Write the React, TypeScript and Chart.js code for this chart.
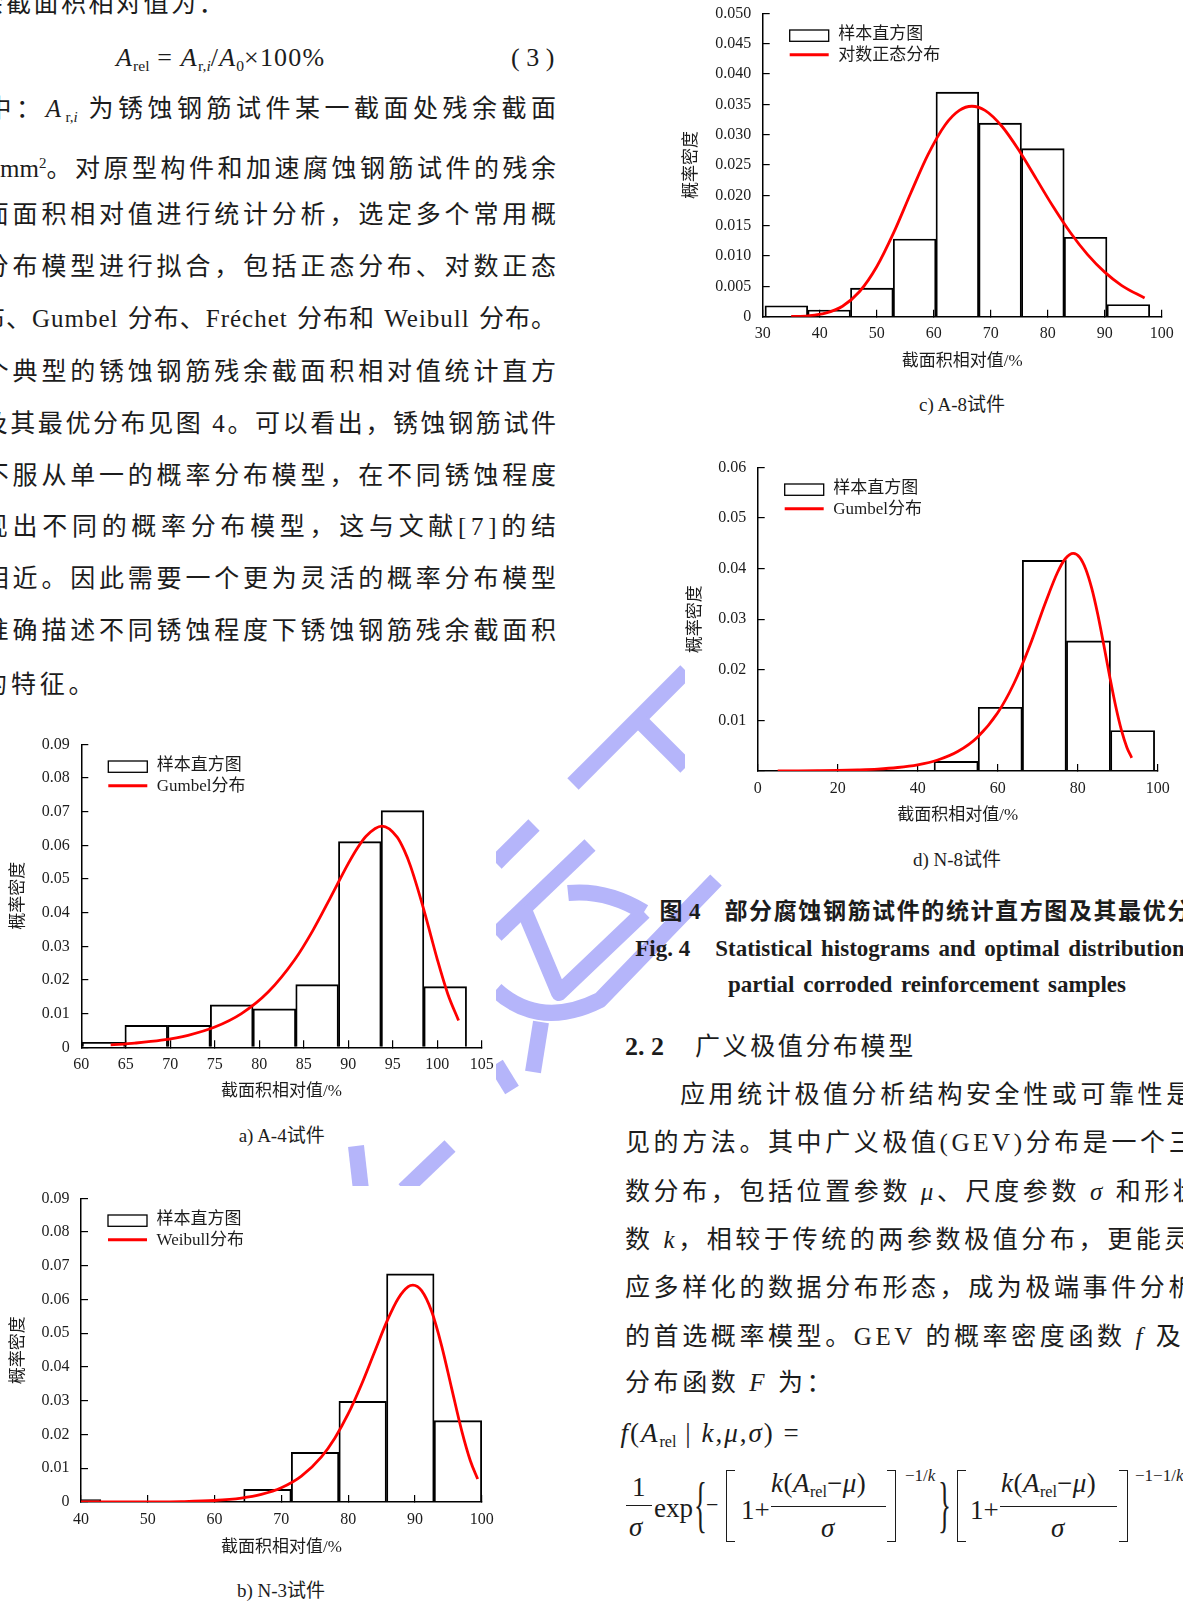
import React, { useEffect, useRef } from "react";
import { Chart, registerables } from "chart.js";

Chart.register(...registerables);

const RED = "#ff0000";
const INK = "#1c1c1c";
const FONT = '"Liberation Serif", "Times New Roman", "Noto Sans CJK SC", serif';

// ---------------- c) A-8 (lognormal) ----------------
const binCentersC = [34.15, 41.65, 49.15, 56.65, 64.15, 71.65, 79.15, 86.65, 94.15];
const binHeightsC = [0.0018, 0.0011, 0.0047, 0.0128, 0.037, 0.0319, 0.0277, 0.0131, 0.002];
const curveXC = [35, 38, 41, 44, 47, 50, 53, 56, 59, 62, 64.5, 66.7, 69, 72, 75, 78, 81, 84, 87, 90, 93, 97];
const curveYC = [0.00003, 0.00015, 0.00058, 0.00173, 0.00415, 0.00823, 0.01389, 0.02043, 0.02671, 0.0316, 0.034, 0.03468, 0.034, 0.03134, 0.02734, 0.02271, 0.01807, 0.01383, 0.01023, 0.00734, 0.00513, 0.00307];
const xTicksC = [30, 40, 50, 60, 70, 80, 90, 100];
const xLabelsC = ["30", "40", "50", "60", "70", "80", "90", "100"];
const yTicksC = [0, 0.005, 0.01, 0.015, 0.02, 0.025, 0.03, 0.035, 0.04, 0.045, 0.05];
const yLabelsC = ["0", "0.005", "0.010", "0.015", "0.020", "0.025", "0.030", "0.035", "0.040", "0.045", "0.050"];

// ---------------- d) N-8 (Gumbel) ----------------
const binCentersD = [49.6, 60.63, 71.66, 82.69, 93.72];
const binHeightsD = [0.0019, 0.0126, 0.0416, 0.0257, 0.008];
const curveXD = [5, 10, 15, 20, 25, 30, 35, 40, 45, 50, 55, 60, 64, 68, 72, 75, 76.9, 78.9, 80.5, 82, 83.5, 85, 86.5, 88, 89.5, 91, 92.3, 93.5];
const curveYD = [0.00002, 0.00004, 0.00007, 0.00012, 0.00022, 0.00038, 0.00069, 0.00123, 0.00218, 0.00385, 0.00673, 0.0115, 0.01719, 0.02471, 0.0334, 0.03931, 0.04193, 0.043, 0.04221, 0.03992, 0.03612, 0.03101, 0.02498, 0.01869, 0.01279, 0.00786, 0.00466, 0.00261];
const xTicksD = [0, 20, 40, 60, 80, 100];
const xLabelsD = ["0", "20", "40", "60", "80", "100"];
const yTicksD = [0, 0.01, 0.02, 0.03, 0.04, 0.05, 0.06];
const yLabelsD = ["", "0.01", "0.02", "0.03", "0.04", "0.05", "0.06"];

// ---------------- a) A-4 (Gumbel) ----------------
const binCentersA = [62.5, 67.3, 72.1, 76.9, 81.7, 86.5, 91.3, 96.1, 100.9];
const binHeightsA = [0.0015, 0.0065, 0.0065, 0.0126, 0.0114, 0.0186, 0.0611, 0.0703, 0.018];
const curveXA = [63.3, 66, 69, 72, 75, 78, 81, 84, 86, 88, 90, 91, 92, 93.8, 95.5, 96.3, 97, 98.5, 99.3, 100, 101.2, 102.4];
const curveYA = [0.0007, 0.00124, 0.00211, 0.00357, 0.00601, 0.01001, 0.0164, 0.02607, 0.03459, 0.04445, 0.05455, 0.05905, 0.06271, 0.0657, 0.06243, 0.05848, 0.05382, 0.04084, 0.03302, 0.02621, 0.01577, 0.00798];
const xTicksA = [60, 65, 70, 75, 80, 85, 90, 95, 100, 105];
const xLabelsA = ["60", "65", "70", "75", "80", "85", "90", "95", "100", "105"];
const yTicksA = [0, 0.01, 0.02, 0.03, 0.04, 0.05, 0.06, 0.07, 0.08, 0.09];
const yLabelsA = ["0", "0.01", "0.02", "0.03", "0.04", "0.05", "0.06", "0.07", "0.08", "0.09"];

// ---------------- b) N-3 (Weibull) ----------------
const binCentersB = [39.41, 46.54, 53.67, 60.79, 67.92, 75.05, 82.18, 89.31, 96.44];
const binHeightsB = [0.0007, 0, 0, 0, 0.00375, 0.0147, 0.0298, 0.0676, 0.0241];
const curveXB = [40, 45, 50, 55, 60, 64, 67, 70, 73, 76, 78, 80, 82, 84, 86, 87.5, 89, 89.7, 91, 92.5, 94, 95.5, 97, 98.3, 99.4];
const curveYB = [0, 0.00001, 0.00003, 0.00012, 0.00044, 0.00114, 0.00223, 0.0042, 0.00764, 0.01337, 0.01892, 0.02608, 0.03484, 0.04469, 0.0544, 0.06034, 0.06382, 0.06425, 0.06262, 0.0565, 0.04629, 0.03368, 0.02117, 0.01223, 0.00679];
const xTicksB = [40, 50, 60, 70, 80, 90, 100];
const xLabelsB = ["40", "50", "60", "70", "80", "90", "100"];
const yTicksB = [0, 0.01, 0.02, 0.03, 0.04, 0.05, 0.06, 0.07, 0.08, 0.09];
const yLabelsB = ["0", "0.01", "0.02", "0.03", "0.04", "0.05", "0.06", "0.07", "0.08", "0.09"];

const HIST_LABEL = "样本直方图";
const X_TITLE = "截面积相对值/%";
const Y_TITLE = "概率密度";

type Spec = {
  left: number; top: number; w: number; h: number;
  area: { l: number; t: number; r: number; b: number };
  xMin: number; xMax: number; yMax: number;
  xTicks: number[]; xLabels: string[]; yTicks: number[]; yLabels: string[];
  binCenters: number[]; binHeights: number[];
  curveX: number[]; curveY: number[]; curveLabel: string;
  xTitlePad: number; yTitlePad: number;
};

const specC: Spec = {
  left: 660, top: 0, w: 523, h: 380, area: { l: 102.7, t: 13.3, r: 501.7, b: 316.7 },
  xMin: 30, xMax: 100, yMax: 0.05, xTicks: xTicksC, xLabels: xLabelsC, yTicks: yTicksC, yLabels: yLabelsC,
  binCenters: binCentersC, binHeights: binHeightsC, curveX: curveXC, curveY: curveYC, curveLabel: "对数正态分布",
  xTitlePad: 7.8, yTitlePad: 21.5,
};
const specD: Spec = {
  left: 685, top: 440, w: 498, h: 400, area: { l: 72.7, t: 27.3, r: 472.7, b: 331 },
  xMin: 0, xMax: 100, yMax: 0.06, xTicks: xTicksD, xLabels: xLabelsD, yTicks: yTicksD, yLabels: yLabelsD,
  binCenters: binCentersD, binHeights: binHeightsD, curveX: curveXD, curveY: curveYD, curveLabel: "Gumbel分布",
  xTitlePad: 13.8, yTitlePad: 0,
};
const specA: Spec = {
  left: 0, top: 720, w: 496, h: 400, area: { l: 81.3, t: 24.3, r: 481.7, b: 327.3 },
  xMin: 60, xMax: 105, yMax: 0.09, xTicks: xTicksA, xLabels: xLabelsA, yTicks: yTicksA, yLabels: yLabelsA,
  binCenters: binCentersA, binHeights: binHeightsA, curveX: curveXA, curveY: curveYA, curveLabel: "Gumbel分布",
  xTitlePad: 18.1, yTitlePad: 8.8,
};
const specB: Spec = {
  left: 0, top: 1186, w: 496, h: 384, area: { l: 81, t: 12.3, r: 481.7, b: 316 },
  xMin: 40, xMax: 100, yMax: 0.09, xTicks: xTicksB, xLabels: xLabelsB, yTicks: yTicksB, yLabels: yLabelsB,
  binCenters: binCentersB, binHeights: binHeightsB, curveX: curveXB, curveY: curveYB, curveLabel: "Weibull分布",
  xTitlePad: 12.1, yTitlePad: 8.1,
};

const legendPlugin = {
  id: "sampleLegend",
  afterDatasetsDraw(chart: any) {
    const { ctx, chartArea } = chart;
    const x = chartArea.left + 27;
    const y = chartArea.top + 16.7;
    const lineDs = chart.data.datasets[0];
    const barDs = chart.data.datasets[1];
    ctx.save();
    ctx.lineWidth = 1.3;
    ctx.strokeStyle = "#000";
    ctx.strokeRect(x, y, 39, 11.3);
    ctx.lineWidth = 3;
    ctx.strokeStyle = RED;
    ctx.beginPath();
    ctx.moveTo(x, y + 24.7);
    ctx.lineTo(x + 39, y + 24.7);
    ctx.stroke();
    ctx.fillStyle = INK;
    ctx.font = `17px ${FONT}`;
    ctx.textBaseline = "middle";
    ctx.textAlign = "left";
    ctx.fillText(barDs.label, x + 48.5, y + 4.5);
    ctx.fillText(lineDs.label, x + 48.5, y + 25.5);
    ctx.restore();
  },
};

function HistChart({ spec }: { spec: Spec }) {
  const ref = useRef<HTMLCanvasElement>(null);
  useEffect(() => {
    const s = spec;
    const tickFont = { family: FONT, size: 16 };
    const titleFont = { family: FONT, size: 17 };
    const chart = new Chart(ref.current as HTMLCanvasElement, {
      type: "bar",
      data: {
        datasets: [
          {
            type: "line",
            label: s.curveLabel,
            data: s.curveX.map((x, i) => ({ x, y: s.curveY[i] })),
            borderColor: RED,
            borderWidth: 2.8,
            pointRadius: 0,
            cubicInterpolationMode: "monotone",
            fill: false,
            order: 0,
          } as any,
          {
            type: "bar",
            label: HIST_LABEL,
            data: s.binCenters.map((x, i) => ({ x, y: s.binHeights[i] })),
            backgroundColor: "rgba(255,255,255,0)",
            borderColor: "#000",
            borderWidth: 1.2,
            barPercentage: 1,
            categoryPercentage: 1,
            grouped: false,
            order: 1,
            clip: { left: 0, top: 10, right: 10, bottom: 0 },
          } as any,
        ],
      },
      options: {
        responsive: false,
        animation: false,
        devicePixelRatio: 1,
        events: [],
        layout: { padding: { left: 0, top: s.area.t, right: s.w - s.area.r, bottom: 0 } },
        plugins: { legend: { display: false }, tooltip: { enabled: false }, title: { display: false } },
        scales: {
          x: {
            type: "linear",
            min: s.xMin,
            max: s.xMax,
            offset: false,
            afterBuildTicks: (sc: any) => { sc.ticks = s.xTicks.map((v) => ({ value: v })); },
            afterFit: (sc: any) => {
              sc.height = s.h - s.area.b;
              sc.paddingLeft = 0;
              sc.paddingRight = 0;
            },
            ticks: { autoSkip: false, maxRotation: 0, padding: 14.9, font: tickFont, color: INK, callback: (_v: any, i: number) => s.xLabels[i] },
            grid: { drawOnChartArea: false, drawTicks: true, tickLength: -7, color: "#000", lineWidth: 1.2, offset: false },
            border: { display: true, color: "#000", width: 1.5 },
            title: { display: true, text: X_TITLE, font: titleFont, color: INK, padding: { top: 0, bottom: s.xTitlePad } },
          },
          y: {
            type: "linear",
            min: 0,
            max: s.yMax,
            afterBuildTicks: (sc: any) => { sc.ticks = s.yTicks.map((v) => ({ value: v })); },
            afterFit: (sc: any) => {
              sc.width = s.area.l;
              sc.paddingTop = 0;
              sc.paddingBottom = 0;
            },
            ticks: { autoSkip: false, padding: 18.5, font: tickFont, color: INK, callback: (_v: any, i: number) => s.yLabels[i] },
            grid: { drawOnChartArea: false, drawTicks: true, tickLength: -7, color: "#000", lineWidth: 1.2 },
            border: { display: true, color: "#000", width: 1.5 },
            title: { display: true, text: Y_TITLE, font: titleFont, color: INK, padding: { top: s.yTitlePad, bottom: 0 } },
          },
        },
      } as any,
      plugins: [legendPlugin],
    });
    return () => chart.destroy();
  }, [spec]);
  return (
    <canvas
      ref={ref}
      width={spec.w}
      height={spec.h}
      style={{ position: "absolute", left: spec.left, top: spec.top, width: spec.w, height: spec.h, background: "#fff" }}
    />
  );
}

function Abs({ x, right, y, size = 25, ls = 0, bold = false, center = false, style, children }: any) {
  const st: React.CSSProperties = {
    position: "absolute",
    top: y - size * 0.6,
    lineHeight: `${size * 1.2}px`,
    fontSize: size,
    letterSpacing: ls,
    whiteSpace: "nowrap",
    fontWeight: bold ? 700 : 400,
    ...style,
  };
  if (right !== undefined) st.right = 1183 - right - ls;
  else if (center) { st.left = x; st.transform = "translateX(-50%)"; }
  else st.left = x;
  return <div style={st}>{children}</div>;
}

const subSt: React.CSSProperties = { fontSize: "0.6em", verticalAlign: "-0.3em", letterSpacing: 0 };
const supSt: React.CSSProperties = { fontSize: "0.6em", verticalAlign: "0.6em", letterSpacing: 0 };

function Bar({ left, top, width }: any) {
  return <div style={{ position: "absolute", left, top, width, height: 1.3, background: INK }} />;
}
function Bracket({ left, side }: any) {
  const b = `1.6px solid ${INK}`;
  return (
    <div style={{
      position: "absolute", left, top: 1470, width: 8, height: 70,
      borderTop: b, borderBottom: b,
      borderLeft: side === "l" ? b : "none", borderRight: side === "r" ? b : "none",
    }} />
  );
}

function Watermark() {
  const c = "#b5b5fa";
  return (
    <svg width={1183} height={1604} style={{ position: "absolute", left: 0, top: 0 }}>
      <g stroke={c} strokeWidth={16} fill="none" strokeLinecap="butt" strokeLinejoin="round">
        <path d="M573 784 L686 671" />
        <path d="M641 722 L686 767" />
        <path d="M496 863 L534 825" />
        <path d="M496 935 L590 845" />
        <path d="M568 893 Q606 889 644 912" />
        <path d="M522 905 L559 993 L644 912" />
        <path d="M496 990 Q540 1030 600 1000 L716 880" />
        <path d="M541 1022 L533 1072" />
        <path d="M496 1064 L512 1090" />
        <path d="M356 1146 L361 1190" />
        <path d="M450 1146 L404 1190" />
      </g>
    </svg>
  );
}

export default function App() {
  useEffect(() => {
    document.body.style.margin = "0";
  }, []);
  const leftY = [109, 163, 214.5, 266.5, 319, 372, 424, 476, 527, 579, 631, 685];
  return (
    <div style={{ position: "absolute", left: 0, top: 0, width: 1183, height: 1604, overflow: "hidden", background: "#fff", fontFamily: FONT, color: INK }}>
      <Watermark />

      {/* ---------- left column text ---------- */}
      <Abs x={-21.5} y={4} ls={2.5}>余截面积相对值为：</Abs>
      <Abs x={116} y={58} size={26} ls={1.2}>
        <i>A</i><span style={subSt}>rel</span> = <i>A</i><span style={subSt}>r,<i>i</i></span>/<i>A</i><span style={subSt}>0</span>×100%
      </Abs>
      <Abs x={511} y={58} size={26}>( 3 )</Abs>
      <Abs right={556} y={leftY[0]} ls={4.5}>式中：<i>A</i><span style={subSt}>r,<i>i</i></span> 为锈蚀钢筋试件某一截面处残余截面</Abs>
      <Abs right={556} y={leftY[1]} ls={3.5}>积，<span style={{ letterSpacing: 0 }}>mm</span><span style={supSt}>2</span>。对原型构件和加速腐蚀钢筋试件的残余</Abs>
      <Abs right={556} y={leftY[2]} ls={3.8}>截面面积相对值进行统计分析，选定多个常用概</Abs>
      <Abs right={556} y={leftY[3]} ls={3.8}>率分布模型进行拟合，包括正态分布、对数正态</Abs>
      <Abs right={556} y={leftY[4]} ls={1} style={{ wordSpacing: 2 }}>分布、Gumbel 分布、Fréchet 分布和 Weibull 分布。</Abs>
      <Abs right={556} y={leftY[5]} ls={3.8}>个典型的锈蚀钢筋残余截面积相对值统计直方</Abs>
      <Abs right={556} y={leftY[6]} ls={2.6}>图及其最优分布见图 4。可以看出，锈蚀钢筋试件</Abs>
      <Abs right={556} y={leftY[7]} ls={3.8}>不服从单一的概率分布模型，在不同锈蚀程度</Abs>
      <Abs right={556} y={leftY[8]} ls={4.7}>呈现出不同的概率分布模型，这与文献[7]的结</Abs>
      <Abs right={556} y={leftY[9]} ls={3.8}>相近。因此需要一个更为灵活的概率分布模型</Abs>
      <Abs right={556} y={leftY[10]} ls={3.8}>准确描述不同锈蚀程度下锈蚀钢筋残余截面积</Abs>
      <Abs x={-17.9} y={leftY[11]} ls={3.8}>的特征。</Abs>

      {/* ---------- charts ---------- */}
      <HistChart spec={specC} />
      <HistChart spec={specD} />
      <HistChart spec={specA} />
      <HistChart spec={specB} />

      <Abs x={962} y={405.5} size={19} center>c) A-8试件</Abs>
      <Abs x={957} y={860} size={19} center>d) N-8试件</Abs>
      <Abs x={281.7} y={1136.7} size={19} center>a) A-4试件</Abs>
      <Abs x={281} y={1591.7} size={19} center>b) N-3试件</Abs>

      {/* ---------- right column text ---------- */}
      <Abs x={659.5} y={911.7} size={23} bold>图</Abs>
      <Abs x={689} y={911.7} size={23} bold>4</Abs>
      <Abs x={724.5} y={911.7} size={23} ls={1.6} bold>部分腐蚀钢筋试件的统计直方图及其最优分布</Abs>
      <Abs x={635.3} y={948.3} size={23} bold>Fig. 4</Abs>
      <Abs x={715.2} y={948.3} size={23} bold style={{ wordSpacing: 3 }}>Statistical histograms and optimal distributions of</Abs>
      <Abs x={728} y={985} size={23} bold style={{ wordSpacing: 3 }}>partial corroded reinforcement samples</Abs>

      <Abs x={625} y={1046.7} size={26} bold>2. 2</Abs>
      <Abs x={695} y={1046.7} size={25} ls={2.6}>广义极值分布模型</Abs>

      <Abs x={680} y={1095} ls={3.6}>应用统计极值分析结构安全性或可靠性是常</Abs>
      <Abs x={625} y={1143.3} ls={3.6}>见的方法。其中广义极值(GEV)分布是一个三参</Abs>
      <Abs x={625} y={1191.7} ls={3.6}>数分布，包括位置参数 <i>μ</i>、尺度参数 <i>σ</i> 和形状参</Abs>
      <Abs x={625} y={1240} ls={3.6}>数 <i>k</i>，相较于传统的两参数极值分布，更能灵活适</Abs>
      <Abs x={625} y={1288.3} ls={3.6}>应多样化的数据分布形态，成为极端事件分析中</Abs>
      <Abs x={625} y={1336.7} ls={3.6}>的首选概率模型。GEV 的概率密度函数 <i>f</i> 及累积</Abs>
      <Abs x={625} y={1383.3} ls={3.6}>分布函数 <i>F</i> 为：</Abs>
      <Abs x={620.4} y={1433.3} size={27} ls={2}>
        <i>f</i>(<i>A</i><span style={subSt}>rel</span> | <i>k</i>,<i>μ</i>,<i>σ</i>) =
      </Abs>

      {/* ---------- GEV density formula ---------- */}
      <Abs x={632} y={1487} size={27}>1</Abs>
      <Bar left={626} top={1504.5} width={26} />
      <Abs x={629} y={1527} size={27}><i>σ</i></Abs>
      <Abs x={654} y={1508} size={27}>exp</Abs>
      <Abs x={694} y={1505} size={27} style={{ transform: "scaleY(2.3)" }}>{"{"}</Abs>
      <Abs x={706} y={1505} size={22}>−</Abs>
      <Bracket left={726} side="l" />
      <Abs x={741} y={1510} size={27}>1+</Abs>
      <Abs x={771} y={1483} size={27} ls={0.5}><i>k</i>(<i>A</i><span style={subSt}>rel</span>−<i>μ</i>)</Abs>
      <Bar left={771} top={1506} width={115} />
      <Abs x={821} y={1528} size={27}><i>σ</i></Abs>
      <Bracket left={887} side="r" />
      <Abs x={905} y={1476} size={17}>−1/<i>k</i></Abs>
      <Abs x={938} y={1505} size={27} style={{ transform: "scaleY(2.3)" }}>{"}"}</Abs>
      <Bracket left={957} side="l" />
      <Abs x={970} y={1510} size={27}>1+</Abs>
      <Abs x={1001} y={1483} size={27} ls={0.5}><i>k</i>(<i>A</i><span style={subSt}>rel</span>−<i>μ</i>)</Abs>
      <Bar left={1000} top={1506} width={117} />
      <Abs x={1051} y={1528} size={27}><i>σ</i></Abs>
      <Bracket left={1119} side="r" />
      <Abs x={1135} y={1476} size={17}>−1−1/<i>k</i></Abs>
    </div>
  );
}
